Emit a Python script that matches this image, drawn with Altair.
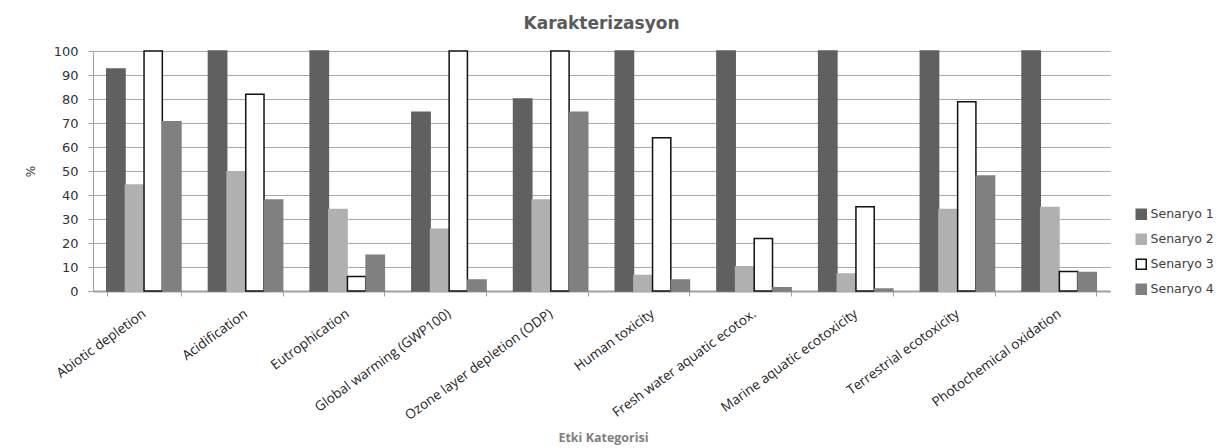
import altair as alt
import pandas as pd

categories = [
    "Abiotic depletion",
    "Acidification",
    "Eutrophication",
    "Global warming (GWP100)",
    "Ozone layer depletion (ODP)",
    "Human toxicity",
    "Fresh water aquatic ecotox.",
    "Marine aquatic ecotoxicity",
    "Terrestrial ecotoxicity",
    "Photochemical oxidation",
]
scenarios = ["Senaryo 1", "Senaryo 2", "Senaryo 3", "Senaryo 4"]

senaryo_1 = [92.5, 100, 100, 74.5, 80, 100, 100, 100, 100, 100]
senaryo_2 = [44.2, 49.7, 34, 25.7, 37.9, 6.5, 10.1, 7.1, 34, 34.8]
senaryo_3 = [100, 82, 6, 100, 100, 63.9, 21.9, 35.1, 78.9, 8.1]
senaryo_4 = [70.5, 37.9, 14.9, 4.6, 74.5, 4.6, 1.4, 0.8, 47.9, 7.7]

fills = ["#606060", "#b0b0b0", "#ffffff", "#808080"]
strokes = ["#606060", "#b0b0b0", "#111111", "#808080"]

rows = []
for series, values in zip(scenarios, [senaryo_1, senaryo_2, senaryo_3, senaryo_4]):
    for cat, v in zip(categories, values):
        rows.append({"Kategori": cat, "Senaryo": series, "Deger": v})
df = pd.DataFrame(rows)

legend_style = dict(
    title=None,
    orient="none",
    legendX=1042,
    legendY=157,
    symbolType="square",
    symbolSize=100,
    symbolStrokeWidth=1.5,
    labelFont="DejaVu Sans",
    labelFontSize=12.5,
    labelColor="#404040",
    rowPadding=8,
    labelOffset=3,
)

bars = alt.Chart(df).mark_bar(strokeWidth=1.5).encode(
    x=alt.X(
        "Kategori:N",
        sort=categories,
        scale=alt.Scale(paddingInner=0.27, paddingOuter=0.135),
        axis=alt.Axis(
            title="Etki Kategorisi",
            labelAngle=324,
            labelAlign="right",
            labelBaseline="middle",
            labelPadding=16,
            labelFont="Open Sans",
            labelFontSize=13.5,
            labelColor="#222222",
            labelOverlap=False,
            labelLimit=400,
            ticks=True,
            tickBand="extent",
            tickSize=5,
            tickColor="#a0a0a0",
            domainColor="#a0a0a0",
            domainWidth=2,
            titleFont="Open Sans",
            titleFontSize=12.5,
            titleFontWeight="bold",
            titleColor="#808080",
            titleX=510,
            titleY=146,
            titleAlign="center",
            titleBaseline="middle",
        ),
    ),
    xOffset=alt.XOffset("Senaryo:N", sort=scenarios, scale=alt.Scale(paddingInner=0.02)),
    y=alt.Y(
        "Deger:Q",
        scale=alt.Scale(domain=[0, 100], nice=False),
        axis=alt.Axis(
            title="%",
            values=list(range(0, 101, 10)),
            labelFont="DejaVu Sans",
            labelFontSize=13,
            labelColor="#333333",
            labelPadding=10,
            tickSize=5,
            tickColor="#a0a0a0",
            domainColor="#a0a0a0",
            gridColor="#a8a8a8",
            gridWidth=1,
            titleAngle=270,
            titleFont="DejaVu Sans",
            titleFontSize=12,
            titleFontWeight="normal",
            titleColor="#333333",
            titleX=-63,
            titleY=120,
            titleAlign="center",
            titleBaseline="middle",
        ),
    ),
    fill=alt.Fill(
        "Senaryo:N",
        sort=scenarios,
        scale=alt.Scale(domain=scenarios, range=fills),
        legend=alt.Legend(**legend_style),
    ),
    stroke=alt.Stroke(
        "Senaryo:N",
        sort=scenarios,
        scale=alt.Scale(domain=scenarios, range=strokes),
        legend=alt.Legend(**legend_style),
    ),
)

chart = bars.properties(
    width=1017,
    height=240,
    autosize=alt.AutoSizeParams(type="none"),
    padding={"left": 93, "top": 51, "right": 119, "bottom": 157},
    background="white",
    title=alt.TitleParams(
        "Karakterizasyon",
        font="DejaVu Sans",
        fontSize=17,
        fontWeight="bold",
        color="#5a5a5a",
        anchor="middle",
        offset=12,
    ),
).configure_view(stroke=None)

chart.save("out.html", embed_options={"renderer": "svg", "actions": False})
